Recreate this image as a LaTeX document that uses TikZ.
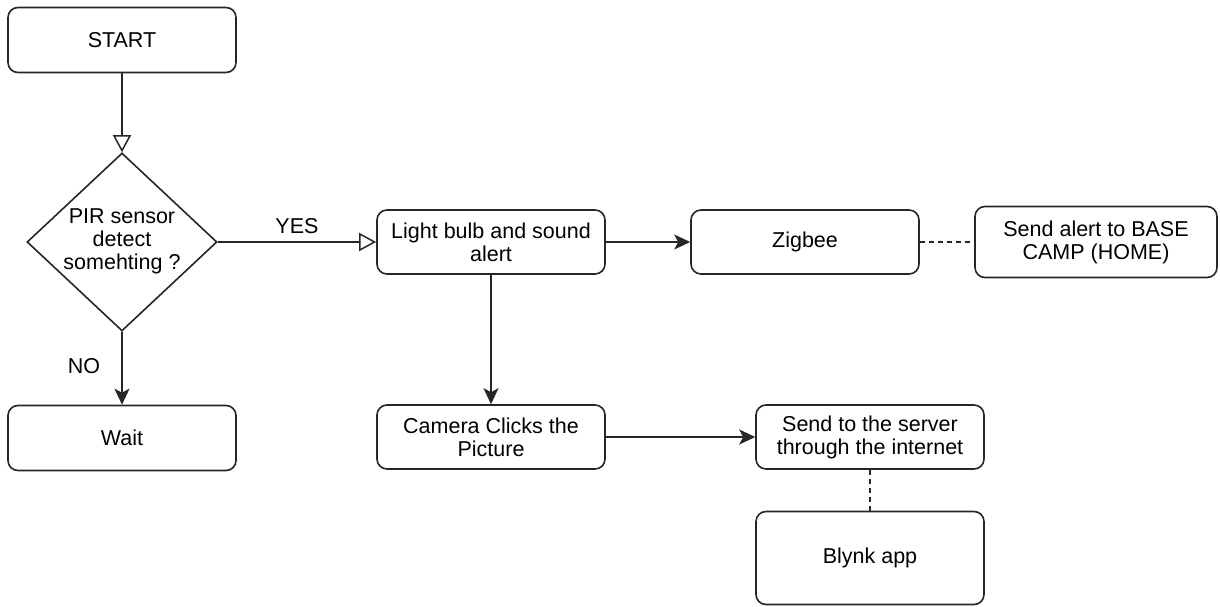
\documentclass[tikz,border=0pt]{standalone}
\usepackage{fontspec}
\setmainfont{Liberation Sans}
\usetikzlibrary{shapes.geometric,arrows.meta}
\begin{document}
\begin{tikzpicture}[x=1pt,y=-1pt,
  every node/.style={font=\fontsize{21.5}{23}\selectfont, text=black},
  box/.style={draw=black!85, line width=1.6pt, rounded corners=10pt, align=center, inner sep=2pt, minimum width=228pt, minimum height=64pt},
  conn/.style={draw=black!85, line width=1.6pt},
  openarr/.style={conn, -{Triangle[open, length=17pt, width=18pt, line width=1.5pt]}},
  fillarr/.style={conn, -{Stealth[length=16pt, width=15pt, inset=4pt]}},
  dashline/.style={conn, dash pattern=on 5pt off 4pt}]
\useasboundingbox (0,0) rectangle (1220,607);
\node[box, minimum height=65pt] (start) at (122,40) {START};
\node[diamond, draw=black!85, line width=1.6pt, inner sep=0pt, minimum width=190pt, minimum height=178pt, shape aspect=1.07] (dec) at (122,242) {};
\node[align=center] (dectext) at (122,241) {PIR sensor\\detect\\somehting ?};
\node[box] (light) at (491,242) {Light bulb and sound\\alert};
\node[box] (zig) at (805,242) {Zigbee};
\node[box, minimum width=242pt, minimum height=71pt] (alert) at (1096,242) {Send alert to BASE\\CAMP (HOME)};
\node[box, minimum height=65pt] (wait) at (122,438) {Wait};
\node[box] (cam) at (491,437) {Camera Clicks the\\Picture};
\node[box] (server) at (870,437) {Send to the server\\through the internet};
\node[box, minimum height=93pt] (blynk) at (870,558) {Blynk app};
\node (yes) at (297,226) {YES};
\node (no) at (84,366) {NO};
\draw[openarr] (start.south) -- (dec.north);
\draw[openarr] (dec.east) -- (light.west);
\draw[fillarr] (dec.south) -- (wait.north);
\draw[fillarr] (light.east) -- (zig.west);
\draw[dashline] (zig.east) -- (alert.west);
\draw[fillarr] (light.south) -- (cam.north);
\draw[fillarr] (cam.east) -- (server.west);
\draw[dashline] (server.south) -- (blynk.north);
\end{tikzpicture}
\end{document}
